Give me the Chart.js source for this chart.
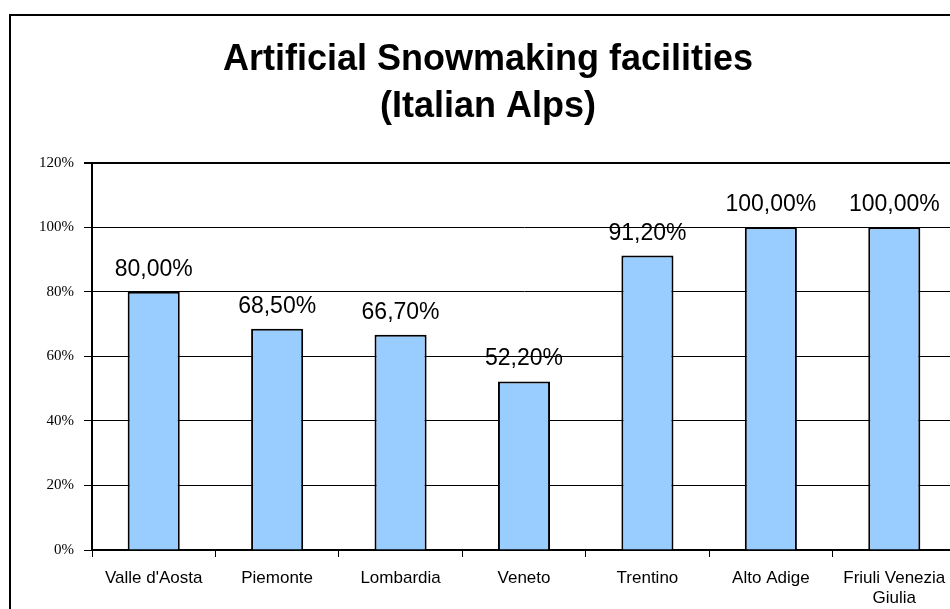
<!DOCTYPE html>
<html>
<head>
<meta charset="utf-8">
<script src="https://cdn.jsdelivr.net/npm/chart.js@4/dist/chart.umd.min.js"></script>
<style>
  html, body { margin: 0; padding: 0; background: #fff; overflow: hidden; }
  #wrap { position: absolute; left: 0; top: 0; width: 976px; height: 625px; }
</style>
</head>
<body>
<div id="wrap"><canvas id="c" width="976" height="625"></canvas></div>
<script>
const categories = ["Valle d'Aosta", "Piemonte", "Lombardia", "Veneto", "Trentino", "Alto Adige", ["Friuli Venezia", "Giulia"]];
const shares = [80.0, 68.5, 66.7, 52.2, 91.2, 100.0, 100.0];
const yTicks = [0, 20, 40, 60, 80, 100, 120];
const titleLines = ["Artificial Snowmaking facilities", "(Italian Alps)"];

const frame = {
  id: 'frame',
  beforeDraw(chart) {
    const ctx = chart.ctx;
    ctx.save();
    ctx.fillStyle = '#fff';
    ctx.fillRect(0, 0, chart.width, chart.height);
    ctx.strokeStyle = '#000';
    ctx.lineWidth = 2;
    ctx.strokeRect(10, 15, 956, 600);
    ctx.restore();
  }
};

const valueLabels = {
  id: 'valueLabels',
  afterDatasetsDraw(chart) {
    const ctx = chart.ctx;
    const meta = chart.getDatasetMeta(0);
    ctx.save();
    ctx.font = '23px "Liberation Sans", Arial, sans-serif';
    ctx.fillStyle = '#000';
    ctx.textAlign = 'center';
    ctx.textBaseline = 'alphabetic';
    meta.data.forEach((el, i) => {
      const v = chart.data.datasets[0].data[i];
      ctx.fillText(v.toFixed(2).replace('.', ',') + '%', el.x, el.y - 16);
    });
    ctx.restore();
  }
};

new Chart(document.getElementById('c'), {
  type: 'bar',
  data: {
    labels: categories,
    datasets: [{
      data: shares,
      backgroundColor: '#99CCFF',
      borderColor: '#000',
      borderWidth: 2,
      categoryPercentage: 1,
      barPercentage: 0.422
    }]
  },
  options: {
    responsive: false,
    animation: false,
    devicePixelRatio: 1,
    layout: { padding: { left: 20, right: 20, top: 0, bottom: 0 } },
    plugins: {
      legend: { display: false },
      tooltip: { enabled: false },
      title: {
        display: true,
        text: titleLines,
        color: '#000',
        font: { family: '"Liberation Sans", Arial, sans-serif', size: 36, weight: 'bold', lineHeight: 1.3 },
        padding: { top: 37, bottom: 32 }
      }
    },
    scales: {
      x: {
        grid: { offset: true, drawOnChartArea: false, drawTicks: true, tickLength: 7, color: '#000', lineWidth: 1 },
        border: { display: true, color: '#000', width: 2 },
        ticks: { color: '#000', padding: 11, maxRotation: 0, autoSkip: false,
          font: { family: '"Liberation Sans", Arial, sans-serif', size: 17, lineHeight: 1.2 } },
        afterFit(scale) { scale.height = 75; }
      },
      y: {
        min: 0, max: 120,
        afterBuildTicks(scale) { scale.ticks = yTicks.map(v => ({ value: v })); },
        grid: { color: '#000', lineWidth: (c) => (c.tick && c.tick.value === 120 ? 2 : 1), drawTicks: true, tickLength: 8, tickColor: '#000' },
        border: { display: true, color: '#000', width: 2 },
        ticks: { color: '#000', padding: 10, callback: (v) => v + '%',
          font: { family: '"Liberation Serif", "Times New Roman", serif', size: 15 } },
        afterFit(scale) { scale.width = 72; }
      }
    }
  },
  plugins: [frame, valueLabels]
});
</script>
</body>
</html>
